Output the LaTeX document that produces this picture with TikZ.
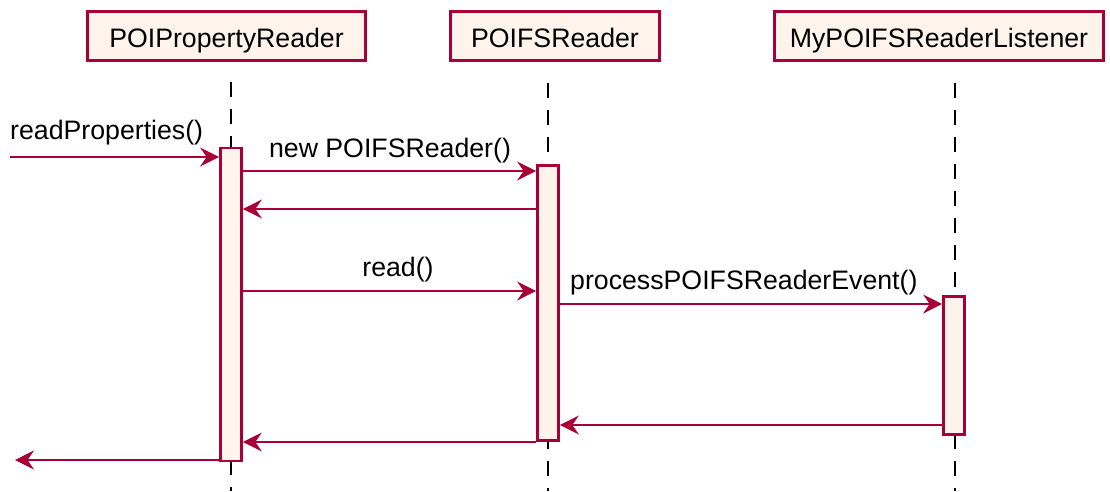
\documentclass[tikz,border=0pt]{standalone}
\usepackage{fontspec}
\setmainfont{Liberation Sans}
\usetikzlibrary{arrows.meta}

\definecolor{umlred}{HTML}{A80036}
\definecolor{umlfill}{HTML}{FEF4EB}

\begin{document}
\begin{tikzpicture}[x=1pt,y=-1pt,
  font=\fontsize{26.7}{32}\selectfont,
  header/.style={draw=umlred, line width=2.7pt, fill=umlfill,
    minimum height=49pt, inner xsep=0pt, text height=22pt, text depth=0pt},
  actbar/.style={draw=umlred, line width=2.7pt, fill=umlfill,
    minimum width=21pt, inner sep=0pt},
  lifeline/.style={line width=2.2pt, dash pattern=on 15pt off 12pt},
  msg/.style={draw=umlred, line width=2pt,
    -{Stealth[length=19pt,width=19pt,inset=6.5pt]}},
  msglabel/.style={inner sep=0pt, anchor=base}]

\useasboundingbox (0,0) rectangle (1110,491);

% participant headers
\node[header, minimum width=278pt] (hReader) at (226.5,36)
  {POIPropertyReader\hspace{11pt}};
\node[header, minimum width=209pt] (hFS) at (555,36)
  {POIFSReader\hspace{10pt}};
\node[header, minimum width=329pt] (hListener) at (939,36)
  {MyPOIFSReaderListener};

% lifelines
\coordinate (l1top) at (231,82);  \coordinate (l1bot) at (231,491);
\coordinate (l2top) at (548,83);  \coordinate (l2bot) at (548,491);
\coordinate (l3top) at (955,83);  \coordinate (l3bot) at (955,491);
\draw[lifeline] (l1top) -- (l1bot);
\draw[lifeline] (l2top) -- (l2bot);
\draw[lifeline] (l3top) -- (l3bot);

% activation bars
\node[actbar, minimum height=313pt] (bReader) at (231,304.5) {};
\node[actbar, minimum height=275pt] (bFS) at (548,303) {};
\node[actbar, minimum height=138pt] (bListener) at (954,365.5) {};

% message rows
\coordinate (yIn)   at (0,157);
\coordinate (yNew)  at (0,171);
\coordinate (yNewR) at (0,209);
\coordinate (yRead) at (0,291);
\coordinate (yEvt)  at (0,304);
\coordinate (yEvtR) at (0,425);
\coordinate (yRdR)  at (0,442);
\coordinate (yOut)  at (0,460);
\coordinate (caller) at (10,157);
\coordinate (callerBack) at (15,460);

% messages
\draw[msg] (caller) -- (bReader.west |- yIn);
\node[msglabel, anchor=base west] (tIn) at (10,139) {readProperties()};

\draw[msg] (bReader.east |- yNew) -- (bFS.west |- yNew);
\node[msglabel] (tNew) at (390,157) {new POIFSReader()};

\draw[msg] (bFS.west |- yNewR) -- (bReader.east |- yNewR);

\draw[msg] (bReader.east |- yRead) -- (bFS.west |- yRead);
\node[msglabel] (tRead) at (398,276) {read()};

\draw[msg] (bFS.east |- yEvt) -- (bListener.west |- yEvt);
\node[msglabel, anchor=base west] (tEvt) at (570,289) {processPOIFSReaderEvent()};

\draw[msg] (bListener.west |- yEvtR) -- (bFS.east |- yEvtR);
\draw[msg] (bFS.west |- yRdR) -- (bReader.east |- yRdR);
\draw[msg] (bReader.west |- yOut) -- (callerBack);

\end{tikzpicture}
\end{document}
